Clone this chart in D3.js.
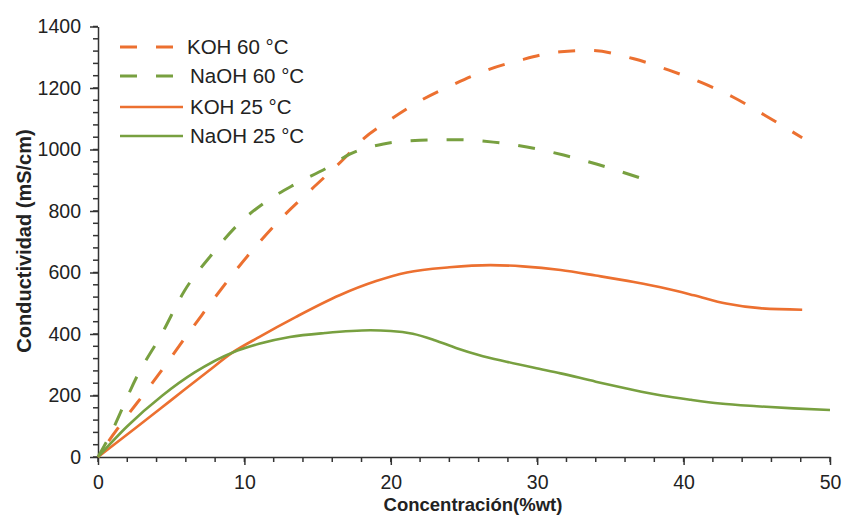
<!DOCTYPE html>
<html>
<head>
<meta charset="utf-8">
<script src="https://cdn.jsdelivr.net/npm/d3@7"></script>
<style>
  body { margin: 0; background: #fff; }
  svg text { font-family: "Liberation Sans", Arial, sans-serif; fill: #222; }
</style>
</head>
<body>
<div id="chart"></div>
<script>
// data: [concentration %wt, conductivity mS/cm]
const kohHot = [[0,0],[1,70],[3.7,240],[6.6,430],[9.6,618],[12.8,790],[14.5,867],[16.9,975],[17.9,1025],[19.9,1095],[22,1158],[24.3,1212],[26.5,1257],[28.8,1290],[31.6,1318],[33.6,1322],[36.6,1295],[39,1258],[41.2,1218],[43.4,1170],[45.6,1110],[48.1,1038]];
const naohHot = [[0,0],[0.7,60],[2.75,270],[4.35,400],[5.9,540],[7.8,660],[9.6,758],[11.4,828],[13.5,888],[15.7,942],[17.2,985],[19.5,1018],[22,1030],[24.5,1032],[27,1024],[29.3,1008],[31.8,982],[34.1,952],[37,908]];
const kohCold = [[0,0],[2.5,92],[5,185],[7.5,278],[9.2,340],[11,390],[13.5,455],[16.5,526],[19,572],[21.1,600],[24,617],[26.8,624],[29,620],[31.6,608],[34,590],[36.6,569],[38.8,548],[40.7,526],[42.9,499],[45.2,484],[48.1,479]];
const naohCold = [[0,0],[2,100],[4.4,200],[6.6,275],[9.2,340],[11,368],[13.1,390],[15.5,403],[18.6,412],[20,410],[21.5,401],[23,380],[24.5,354],[26,332],[27.9,310],[29.8,290],[31.6,272],[34,245],[36.1,223],[38.5,200],[40.5,186],[42.5,174],[45,165],[47.5,158],[50,153]];

const seriesNames = ["KOH 60 °C", "NaOH 60 °C", "KOH 25 °C", "NaOH 25 °C"];
const xTicks = [0, 10, 20, 30, 40, 50];
const yTicks = [0, 200, 400, 600, 800, 1000, 1200, 1400];

const W = 843, H = 515;
const orange = "#ec7030", green = "#78a040";
const axisColor = "#333";

const svg = d3.select("#chart").append("svg")
    .attr("width", W)
    .attr("height", H);

const x = d3.scaleLinear().domain([0, 50]).range([98, 830]);
const y = d3.scaleLinear().domain([0, 1400]).range([457, 26.5]);

// minor ticks
svg.append("g").selectAll("line")
    .data(d3.range(0, 51, 2))
    .join("line")
    .attr("x1", d => x(d)).attr("x2", d => x(d))
    .attr("y1", 457).attr("y2", 462)
    .attr("stroke", axisColor).attr("stroke-width", 1.5);
svg.append("g").selectAll("line")
    .data(d3.range(0, 1401, 40))
    .join("line")
    .attr("x1", 93).attr("x2", 98)
    .attr("y1", d => y(d)).attr("y2", d => y(d))
    .attr("stroke", axisColor).attr("stroke-width", 1.5);

const xAxis = svg.append("g")
    .attr("transform", "translate(0,457)")
    .call(d3.axisBottom(x).tickValues(xTicks).tickFormat(d3.format("d"))
        .tickSize(8).tickSizeOuter(0).tickPadding(10));
const yAxis = svg.append("g")
    .attr("transform", "translate(98,0)")
    .call(d3.axisLeft(y).tickValues(yTicks).tickFormat(d3.format("d"))
        .tickSize(8).tickSizeOuter(0).tickPadding(9));

[xAxis, yAxis].forEach(a => {
    a.selectAll("line, path").attr("stroke", axisColor).attr("stroke-width", 1.5);
    a.selectAll("text").style("font-size", "19.5px").attr("fill", "#222");
});

// axis titles
svg.append("text")
    .attr("x", 473)
    .attr("y", 511)
    .attr("text-anchor", "middle")
    .style("font-size", "18.5px")
    .style("font-weight", "bold")
    .text("Concentración(%wt)");

svg.append("text")
    .attr("transform", "translate(31,241) rotate(-90)")
    .attr("text-anchor", "middle")
    .style("font-size", "20px")
    .style("font-weight", "bold")
    .text("Conductividad (mS/cm)");

// lines
const line = d3.line()
    .x(d => x(d[0]))
    .y(d => y(d[1]))
    .curve(d3.curveMonotoneX);

const series = [
    { name: seriesNames[0], data: kohHot, color: orange, dash: "17,19", offset: 17 },
    { name: seriesNames[1], data: naohHot, color: green, dash: "17,19", offset: 0 },
    { name: seriesNames[2], data: kohCold, color: orange, dash: null },
    { name: seriesNames[3], data: naohCold, color: green, dash: null }
];

series.forEach(s => {
    svg.append("path")
        .datum(s.data)
        .attr("d", line)
        .attr("fill", "none")
        .attr("stroke", s.color)
        .attr("stroke-width", s.dash ? 3 : 2.6)
        .attr("stroke-dasharray", s.dash)
        .attr("stroke-dashoffset", s.offset || 0);
});

// legend
const legendY = [47, 76, 107, 136];
series.forEach((s, i) => {
    const dashed = !!s.dash;
    svg.append("line")
        .attr("x1", 120)
        .attr("x2", dashed ? 174 : 183)
        .attr("y1", legendY[i])
        .attr("y2", legendY[i])
        .attr("stroke", s.color)
        .attr("stroke-width", dashed ? 3 : 2.6)
        .attr("stroke-dasharray", s.dash);
    svg.append("text")
        .attr("x", i === 0 ? 187 : 190)
        .attr("y", legendY[i])
        .attr("dy", "0.35em")
        .style("font-size", "20.5px")
        .text(s.name);
});
</script>
</body>
</html>
